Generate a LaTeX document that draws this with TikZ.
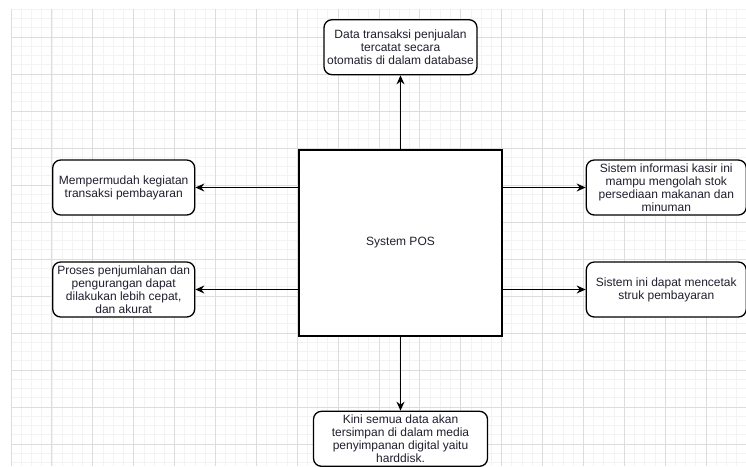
\documentclass[tikz,border=0pt]{standalone}
\usepackage{fontspec}
\setmainfont{Liberation Sans}
\usetikzlibrary{arrows.meta, positioning}
\definecolor{gridminor}{HTML}{F3F3F3}
\definecolor{gridmajor}{HTML}{DDDDDD}
\definecolor{textcolor}{HTML}{1F1F2E}
\tikzset{
  sysbox/.style={
    draw=black,
    fill=white,
    line width=1.3pt,
    minimum width=203pt,
    minimum height=186pt,
    inner sep=0pt,
    text=textcolor,
    font=\fontsize{12}{13}\selectfont
  },
  infobox/.style={
    draw=black,
    fill=white,
    line width=1.3pt,
    rounded corners=8pt,
    align=center,
    text=textcolor,
    inner sep=0pt,
    minimum height=55pt,
    font=\fontsize{12}{13}\selectfont
  },
  arrowline/.style={
    -{Stealth[length=9pt, width=8pt, inset=3pt]},
    line width=1.3pt,
    color=black
  },
  minorline/.style={
    draw=gridminor,
    line width=0.7pt
  },
  majorline/.style={
    draw=gridmajor,
    line width=0.8pt
  }
}

\begin{document}
\begin{tikzpicture}[x=1pt, y=-1pt]

  \useasboundingbox (0,0) rectangle (746,466);

  % ==================== GRID ====================
  \foreach \k in {0,...,72}
    \draw[minorline] ({11+10.22*\k},9.25) -- ({11+10.22*\k},466);
  \foreach \k in {0,...,49}
    \draw[minorline] (11,{9.25+9.25*\k}) -- (746,{9.25+9.25*\k});
  \foreach \k in {0,...,17}
    \draw[majorline] ({11+40.88*\k},9.25) -- ({11+40.88*\k},466);
  \foreach \k in {0,...,11}
    \draw[majorline] (11,{37+37*\k}) -- (746,{37+37*\k});

  % ==================== SYSTEM ====================
  \node (pos) [sysbox] at (400.5,243) {System POS};

  % ==================== OUTPUTS ====================
  \node (data) [infobox, minimum width=153pt, above=74pt of pos] {Data transaksi penjualan\\tercatat secara\\otomatis di dalam database};

  \node (kiri1) [infobox, minimum width=142pt, left=103pt of pos.west, yshift=55.5pt] {Mempermudah kegiatan\\transaksi pembayaran};

  \node (kiri2) [infobox, minimum width=142pt, left=103pt of pos.west, yshift=-46.5pt] {Proses penjumlahan dan\\pengurangan dapat\\dilakukan lebih cepat,\\dan akurat};

  \node (kanan1) [infobox, minimum width=160pt, right=83pt of pos.east, yshift=55.5pt] {Sistem informasi kasir ini\\mampu mengolah stok\\persediaan makanan dan\\minuman};

  \node (kanan2) [infobox, minimum width=160pt, right=83pt of pos.east, yshift=-46.5pt] {Sistem ini dapat mencetak\\struk pembayaran};

  \node (simpan) [infobox, minimum width=174pt, below=74pt of pos] {Kini semua data akan\\tersimpan di dalam media\\penyimpanan digital yaitu\\harddisk.};

  % Connectors
  \draw [arrowline] (pos) -- (data);
  \draw [arrowline] (pos.west |- kiri1.east) -- (kiri1.east);
  \draw [arrowline] (pos.west |- kiri2.east) -- (kiri2.east);
  \draw [arrowline] (pos.east |- kanan1.west) -- (kanan1.west);
  \draw [arrowline] (pos.east |- kanan2.west) -- (kanan2.west);
  \draw [arrowline] (pos) -- (simpan);

\end{tikzpicture}
\end{document}
